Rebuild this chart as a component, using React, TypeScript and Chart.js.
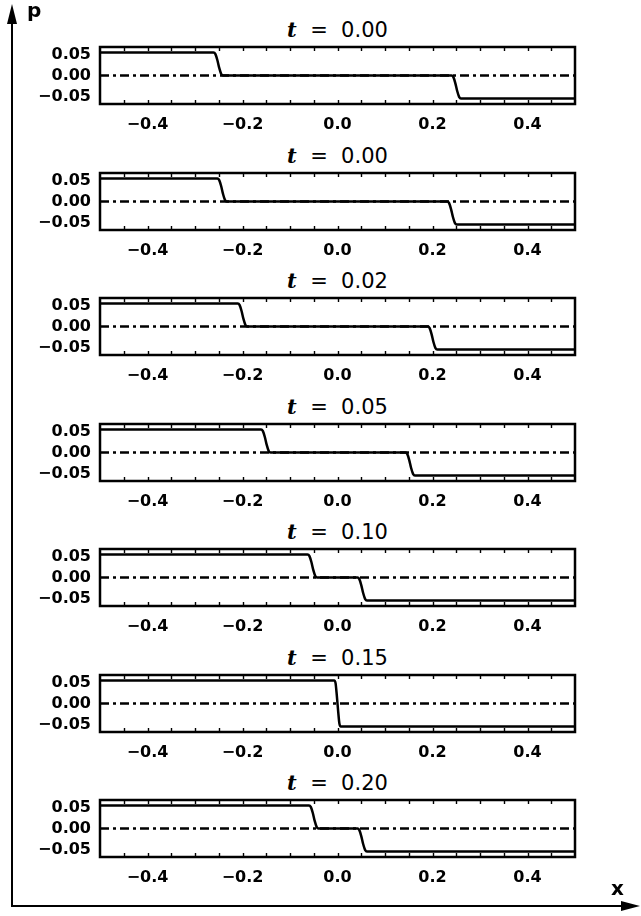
import React, { useEffect, useRef } from "react";
import { Chart, registerables } from "chart.js";

Chart.register(...registerables);

// ---- data ----
const TIMES = ["0.00", "0.00", "0.02", "0.05", "0.10", "0.15", "0.20"];
const X_TICKS = [-0.4, -0.2, 0.0, 0.2, 0.4];
const X_MINOR = [-0.45, -0.4, -0.35, -0.3, -0.25, -0.2, -0.15, -0.1, -0.05, 0, 0.05, 0.1, 0.15, 0.2, 0.25, 0.3, 0.35, 0.4, 0.45];
const Y_TICKS = [-0.05, 0.0, 0.05];
const X_RANGE = [-0.5, 0.5];
const Y_RANGE = [-0.068, 0.068];
const ZERO_X = [-0.5, 0.5];
const ZERO_P = [0, 0];

const P_TWO = [0.055, 0.055, 0.051, 0.037, 0.018, 0.004, 0, 0, -0.004, -0.018, -0.037, -0.051, -0.055, -0.055];

const X_1 = [-0.5, -0.261, -0.257, -0.253, -0.249, -0.245, -0.241, 0.240, 0.244, 0.248, 0.252, 0.256, 0.260, 0.5];
const X_2 = [-0.5, -0.253, -0.249, -0.245, -0.241, -0.237, -0.233, 0.231, 0.235, 0.239, 0.243, 0.247, 0.251, 0.5];
const X_3 = [-0.5, -0.210, -0.206, -0.202, -0.198, -0.194, -0.190, 0.190, 0.194, 0.198, 0.202, 0.206, 0.210, 0.5];
const X_4 = [-0.5, -0.161, -0.157, -0.153, -0.149, -0.145, -0.141, 0.143, 0.147, 0.151, 0.155, 0.159, 0.163, 0.5];
const X_5 = [-0.5, -0.063, -0.059, -0.055, -0.051, -0.047, -0.043, 0.042, 0.046, 0.050, 0.054, 0.058, 0.062, 0.5];
const X_6 = [-0.5, -0.007, -0.004, -0.0015, 0.0015, 0.004, 0.007, 0.5];
const P_6 = [0.055, 0.055, 0.048, 0.02, -0.02, -0.048, -0.055, -0.055];
const X_7 = [-0.5, -0.060, -0.056, -0.052, -0.048, -0.044, -0.040, 0.042, 0.046, 0.050, 0.054, 0.058, 0.062, 0.5];

const SERIES_X = [X_1, X_2, X_3, X_4, X_5, X_6, X_7];
const SERIES_P = [P_TWO, P_TWO, P_TWO, P_TWO, P_TWO, P_6, P_TWO];

// ---- layout ----
const FIRST_BOX_TOP = 47;
const PANEL_STEP = 125.5;
const BOX_LEFT = 100;
const BOX_RIGHT = 575;
const BOX_H = 57;
const CANVAS_TOP_PAD = 10;
const CANVAS_H = 100;
const W = 641;
const H = 916;

const fmt = (v: number) => {
  const s = Math.abs(v).toFixed(2);
  return (v < -1e-9 ? "\u2212" : "") + s;
};
const fmtX = (v: number) => {
  const s = Math.abs(v).toFixed(1);
  return (v < -1e-9 ? "\u2212" : "") + s;
};

const boxPlugin = {
  id: "boxPlugin",
  afterDraw(chart: any) {
    const { ctx, chartArea } = chart;
    const xs = chart.scales.x;
    ctx.save();
    ctx.strokeStyle = "#000";
    ctx.lineWidth = 1.4;
    ctx.beginPath();
    X_MINOR.forEach((v) => {
      const px = Math.round(xs.getPixelForValue(v)) + 0.5;
      ctx.moveTo(px, chartArea.top);
      ctx.lineTo(px, chartArea.top + 4);
      ctx.moveTo(px, chartArea.bottom);
      ctx.lineTo(px, chartArea.bottom - 4);
    });
    ctx.stroke();
    ctx.lineWidth = 2.5;
    ctx.strokeRect(chartArea.left, chartArea.top, chartArea.right - chartArea.left, chartArea.bottom - chartArea.top);
    ctx.restore();
  },
};

function Panel({ idx }: { idx: number }) {
  const ref = useRef<HTMLCanvasElement>(null);
  useEffect(() => {
    if (!ref.current) return;
    const xsArr = SERIES_X[idx];
    const psArr = SERIES_P[idx];
    const chart = new Chart(ref.current, {
      type: "line",
      data: {
        datasets: [
          {
            data: xsArr.map((x, i) => ({ x, y: psArr[i] })),
            borderColor: "#000",
            borderWidth: 2.5,
            pointRadius: 0,
            cubicInterpolationMode: "monotone",
            fill: false,
          },
          {
            data: ZERO_X.map((x, i) => ({ x, y: ZERO_P[i] })),
            borderColor: "#000",
            borderWidth: 2.5,
            borderDash: [9, 4, 3, 4],
            pointRadius: 0,
            fill: false,
          },
        ],
      },
      options: {
        animation: false,
        responsive: false,
        maintainAspectRatio: false,
        events: [],
        layout: { padding: { top: CANVAS_TOP_PAD, right: W - BOX_RIGHT, left: 0, bottom: 0 } },
        plugins: { legend: { display: false }, tooltip: { enabled: false }, title: { display: false } },
        scales: {
          x: {
            type: "linear",
            min: X_RANGE[0],
            max: X_RANGE[1],
            grid: { display: false, drawTicks: false },
            border: { display: false },
            afterBuildTicks: (s: any) => {
              s.ticks = X_TICKS.map((v) => ({ value: v }));
            },
            afterFit: (s: any) => {
              s.height = CANVAS_H - CANVAS_TOP_PAD - BOX_H;
              s.paddingLeft = 0;
              s.paddingRight = 0;
            },
            ticks: {
              color: "#000",
              padding: 11,
              maxRotation: 0,
              autoSkip: false,
              font: { family: "'DejaVu Sans'", weight: "bold", size: 16 },
              callback: (v: any) => fmtX(Number(v)),
            },
          },
          y: {
            type: "linear",
            min: Y_RANGE[0],
            max: Y_RANGE[1],
            grid: { display: false, drawTicks: false },
            border: { display: false },
            afterBuildTicks: (s: any) => {
              s.ticks = Y_TICKS.map((v) => ({ value: v }));
            },
            afterFit: (s: any) => {
              s.width = BOX_LEFT;
              s.paddingTop = 0;
              s.paddingBottom = 0;
            },
            ticks: {
              color: "#000",
              padding: 9,
              autoSkip: false,
              font: { family: "'DejaVu Sans'", weight: "bold", size: 16 },
              callback: (v: any) => fmt(Number(v)),
            },
          },
        },
      },
      plugins: [boxPlugin],
    } as any);
    return () => chart.destroy();
  }, [idx]);

  const boxTop = FIRST_BOX_TOP + PANEL_STEP * idx;
  return (
    <>
      <div
        style={{
          position: "absolute",
          left: BOX_LEFT,
          width: BOX_RIGHT - BOX_LEFT,
          top: boxTop - 30,
          height: 26,
          lineHeight: "26px",
          textAlign: "center",
          fontFamily: "'DejaVu Sans'",
          fontSize: 21,
          color: "#000",
          whiteSpace: "pre",
        }}
      >
        <span style={{ fontFamily: "'DejaVu Serif'", fontStyle: "italic", fontWeight: "bold" }}>t</span>
        <span>{"  =  " + TIMES[idx]}</span>
      </div>
      <canvas
        ref={ref}
        width={W}
        height={CANVAS_H}
        style={{ position: "absolute", left: 0, top: boxTop - CANVAS_TOP_PAD, width: W, height: CANVAS_H }}
      />
    </>
  );
}

export default function App() {
  return (
    <div style={{ position: "absolute", left: 0, top: 0, width: W, height: H, background: "#fff", overflow: "hidden" }}>
      {TIMES.map((_, i) => (
        <Panel key={i} idx={i} />
      ))}
      <svg width={W} height={H} style={{ position: "absolute", left: 0, top: 0 }}>
        <line x1={12} y1={906} x2={12} y2={20} stroke="#000" strokeWidth={2} />
        <polygon points="12,4 7,24 17,24" fill="#000" />
        <line x1={11} y1={906} x2={624} y2={906} stroke="#000" strokeWidth={2} />
        <polygon points="640,906 621,901 621,911" fill="#000" />
      </svg>
      <div
        style={{
          position: "absolute",
          left: 27,
          top: -2,
          fontFamily: "'DejaVu Sans'",
          fontWeight: "bold",
          fontSize: 20,
          lineHeight: "24px",
        }}
      >
        p
      </div>
      <div
        style={{
          position: "absolute",
          left: 611,
          top: 876,
          fontFamily: "'DejaVu Sans'",
          fontWeight: "bold",
          fontSize: 20,
          lineHeight: "24px",
        }}
      >
        x
      </div>
    </div>
  );
}
